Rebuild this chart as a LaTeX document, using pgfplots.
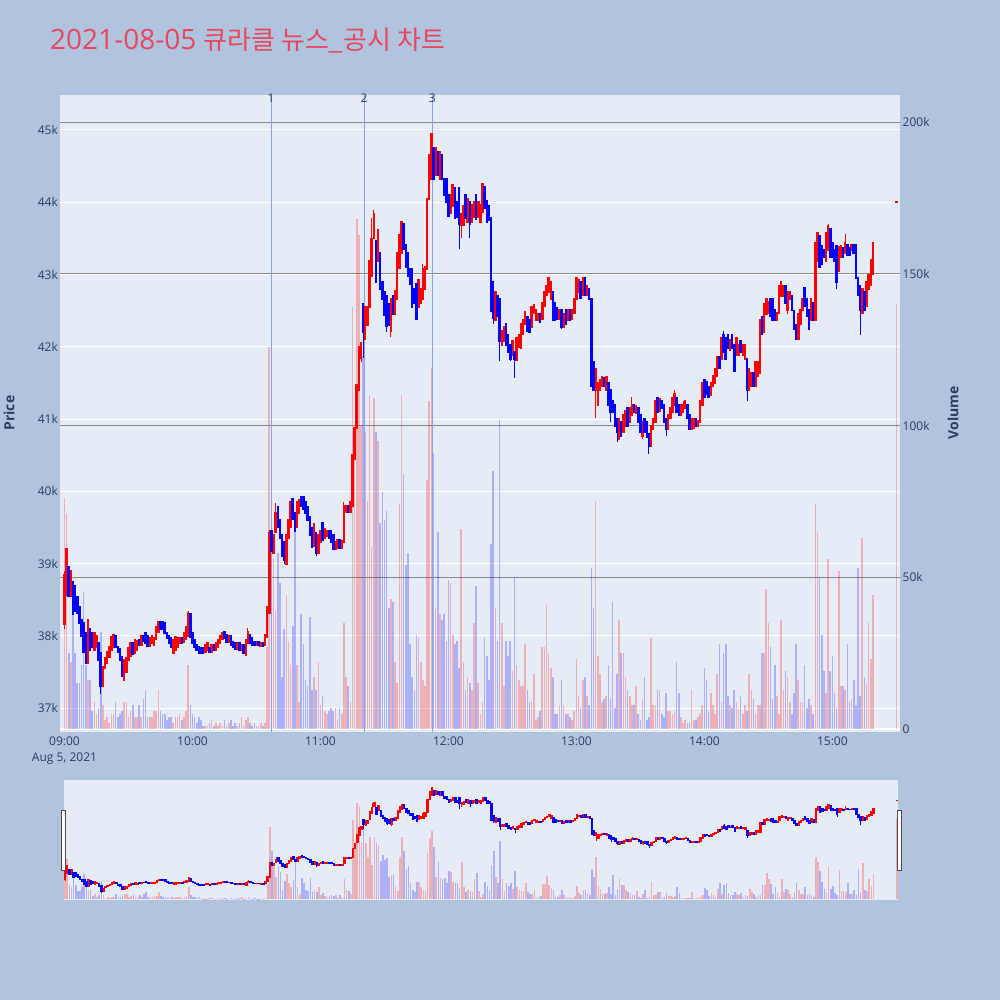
\documentclass[border=0pt]{standalone}
\usepackage{pgfplots}
\pgfplotsset{compat=1.18}
\usepackage{pgfplotstable}
\usepackage{fontspec}
\setmainfont{Open Sans}
\newfontfamily\krfont{Noto Sans CJK KR}
\definecolor{pagebg}{HTML}{B0C4DE}
\definecolor{plotbg}{HTML}{E5ECF6}
\definecolor{tickc}{HTML}{2A3F5F}
\definecolor{titlec}{HTML}{E8475F}
\definecolor{vgrid}{HTML}{8A8A8A}
\definecolor{evline}{HTML}{8AA2EE}
\definecolor{upc}{HTML}{FF0000}
\definecolor{dnc}{HTML}{0000FF}

\pgfplotstableread{
t o c v
0 38.16 38.85 76
1 38.57 39.20 71
2 38.96 38.55 25
3 38.55 38.90 22
4 38.75 38.30 38
5 38.70 38.35 25
6 38.54 38.32 15
7 38.40 38.18 15
8 38.22 38.00 21
9 38.18 37.77 45
10 38.04 37.63 21
11 37.63 38.22 16
12 38.10 37.80 16
13 38.05 37.85 6
14 37.80 38.04 9
15 37.85 38.00 5
16 37.90 37.67 7
17 37.77 37.30 32
18 37.30 37.57 8
19 37.56 37.70 3
20 37.62 37.78 4
21 37.71 37.85 2
22 37.81 37.99 5
23 37.85 38.02 5
24 38.00 37.85 9
25 37.85 37.77 4
26 37.82 37.66 5
27 37.71 37.44 6
28 37.39 37.67 9
29 37.50 37.70 9
30 37.66 37.83 4
31 37.72 37.90 6
32 37.90 37.75 8
33 37.76 37.95 4
34 37.80 37.93 4
35 37.95 37.88 8
36 37.88 38.00 4
37 38.00 37.93 10
38 38.04 37.90 13
39 38.00 37.86 4
40 37.86 37.97 4
41 37.90 38.00 4
42 37.88 37.97 6
43 37.95 38.13 6
44 38.05 38.20 13
45 38.20 38.09 6
46 38.20 38.09 5
47 38.18 38.04 5
48 38.04 37.97 3
49 38.00 37.90 4
50 37.97 37.85 4
51 37.76 37.95 2
52 37.80 37.99 4
53 37.85 37.97 4
54 37.90 37.97 5
55 37.97 37.90 3
56 37.92 38.04 4
57 37.95 38.13 6
58 38.00 38.32 21
59 38.30 37.99 8
60 38.04 37.90 5
61 37.95 37.85 4
62 37.88 37.80 2
63 37.85 37.76 4
64 37.84 37.76 3
65 37.84 37.76 1
66 37.78 37.88 1
67 37.80 37.90 1
68 37.84 37.78 2
69 37.78 37.88 3
70 37.88 37.80 1
71 37.80 37.90 2
72 37.85 37.95 1
73 37.90 38.00 2
74 37.95 38.04 1
75 38.06 37.97 3
76 38.02 37.92 1
77 37.92 38.00 2
78 38.00 37.88 3
79 37.92 37.85 1
80 37.90 37.82 2
81 37.82 37.90 1
82 37.90 37.81 2
83 37.81 37.88 4
84 37.88 37.76 1
85 37.74 37.95 3
86 37.90 38.06 4
87 38.02 37.90 2
88 37.98 37.88 1
89 37.92 37.87 2
90 37.87 37.92 1
91 37.92 37.87 1
92 37.86 37.90 2
93 37.90 37.86 1
94 37.88 38.02 2
95 37.99 38.40 27
96 38.32 39.43 126
97 39.45 39.18 85
98 39.15 39.40 56
99 39.43 39.70 39
100 39.79 39.51 58
101 39.60 39.35 48
102 39.40 39.10 17
103 39.30 39.05 33
104 39.00 39.40 44
105 39.35 39.60 29
106 39.50 39.85 21
107 39.90 39.62 34
108 39.70 39.45 71
109 39.50 39.85 21
110 39.70 39.88 9
111 39.93 39.80 38
112 39.92 39.76 28
113 39.85 39.70 16
114 39.78 39.60 14
115 39.65 39.40 37
116 39.50 39.23 13
117 39.25 39.55 17
118 39.43 39.15 13
119 39.15 39.40 22
120 39.30 39.45 8
121 39.56 39.33 11
122 39.35 39.48 6
123 39.38 39.45 5
124 39.46 39.36 6
125 39.45 39.30 7
126 39.40 39.20 6
127 39.20 39.30 7
128 39.22 39.33 3
129 39.33 39.22 7
130 39.22 39.32 5
131 39.30 39.80 35
132 39.72 39.80 17
133 39.80 39.72 14
134 39.72 39.85 9
135 39.80 40.50 139
136 40.45 40.88 95
137 40.88 41.47 168
138 41.40 42.00 163
139 41.85 42.06 100
140 42.60 42.20 123
141 42.10 42.55 98
142 42.30 42.55 75
143 42.55 43.19 110
144 42.98 43.50 60
145 43.50 43.84 109
146 43.46 42.90 98
147 43.19 43.62 95
148 43.30 42.80 68
149 42.90 42.66 78
150 42.76 42.44 69
151 42.70 42.28 72
152 42.60 42.30 40
153 42.22 42.66 43
154 42.70 42.45 42
155 42.45 42.78 22
156 42.66 43.30 15
157 43.09 43.55 74
158 43.30 43.73 110
159 43.70 43.35 84
160 43.41 43.10 54
161 43.30 42.98 58
162 43.08 42.87 28
163 43.08 42.55 17
164 42.80 42.60 13
165 42.87 42.38 31
166 42.55 42.92 30
167 42.60 42.80 22
168 42.66 43.08 16
169 42.80 43.10 14
170 43.08 44.05 82
171 44.05 44.65 108
172 44.32 44.94 119
173 44.75 44.32 91
174 44.38 44.75 40
175 44.70 44.38 65
176 44.32 44.70 38
177 44.65 44.32 36
178 44.32 44.10 38
179 44.32 44.00 29
180 44.10 43.81 49
181 43.85 44.10 48
182 43.95 44.24 31
183 44.20 43.78 28
184 44.00 43.80 29
185 44.20 43.70 20
186 43.68 43.84 66
187 43.68 43.95 22
188 44.10 43.78 13
189 43.73 44.05 17
190 44.00 43.70 15
191 43.73 43.97 13
192 43.80 44.00 35
193 44.10 43.76 47
194 43.80 44.00 15
195 43.73 43.97 5
196 43.87 44.26 9
197 44.21 43.92 30
198 44.02 43.73 24
199 43.95 43.75 16
200 43.78 42.50 61
201 42.90 42.40 85
202 42.37 42.76 40
203 42.71 42.42 29
204 42.66 42.08 102
205 42.03 42.22 35
206 42.08 42.27 14
207 42.32 42.03 29
208 42.17 41.93 24
209 42.03 41.83 29
210 41.88 42.08 19
211 41.93 41.83 50
212 41.81 42.13 21
213 42.00 42.17 16
214 41.98 42.32 14
215 42.17 42.37 14
216 42.32 42.49 28
217 42.42 42.22 13
218 42.37 42.20 9
219 42.27 42.56 9
220 42.46 42.58 18
221 42.37 42.51 3
222 42.37 42.46 4
223 42.46 42.34 6
224 42.39 42.61 27
225 42.56 42.76 27
226 42.71 42.85 41
227 42.76 42.95 25
228 42.66 42.90 20
229 42.76 42.37 17
230 42.61 42.37 5
231 42.54 42.39 5
232 42.39 42.51 8
233 42.51 42.27 16
234 42.27 42.46 8
235 42.51 42.32 5
236 42.37 42.51 5
237 42.51 42.37 4
238 42.39 42.51 3
239 42.46 42.66 6
240 42.66 42.95 23
241 42.76 42.93 11
242 42.90 42.68 7
243 42.71 42.95 16
244 42.95 42.71 17
245 42.71 42.85 11
246 42.80 42.66 8
247 42.66 41.45 53
248 41.79 41.40 40
249 41.40 41.69 75
250 41.20 41.50 24
251 41.40 41.54 18
252 41.45 41.59 9
253 41.57 41.45 10
254 41.40 41.59 11
255 41.50 41.20 21
256 41.40 41.10 10
257 41.25 41.10 42
258 41.20 40.91 7
259 41.01 40.82 18
260 40.72 41.01 36
261 40.96 40.77 25
262 40.82 41.06 25
263 40.91 41.11 17
264 41.15 40.91 13
265 40.96 41.15 11
266 41.06 41.20 8
267 41.20 41.10 8
268 41.08 41.18 14
269 41.15 40.96 5
270 41.06 40.82 3
271 40.77 40.96 10
272 41.01 40.82 17
273 40.96 40.75 3
274 40.80 40.62 4
275 40.62 40.91 30
276 40.86 41.00 8
277 40.96 41.25 8
278 41.30 41.10 13
279 41.11 41.28 13
280 41.25 41.15 5
281 41.20 40.96 4
282 41.01 40.86 12
283 40.86 41.06 6
284 41.01 41.15 6
285 41.10 41.30 5
286 41.20 41.35 6
287 41.30 41.10 22
288 41.20 41.06 12
289 41.06 41.20 4
290 41.10 41.20 2
291 41.15 41.25 3
292 41.20 41.01 2
293 41.06 40.86 2
294 40.86 41.01 13
295 40.88 41.00 3
296 41.00 40.91 3
297 40.91 40.98 4
298 40.96 41.25 5
299 41.20 41.50 8
300 41.54 41.30 20
301 41.52 41.35 16
302 41.45 41.30 6
303 41.33 41.50 12
304 41.45 41.60 8
305 41.50 41.69 5
306 41.60 41.86 18
307 41.86 41.70 28
308 41.83 42.13 9
309 42.17 41.93 25
310 42.13 41.83 28
311 42.17 41.98 11
312 41.95 42.10 8
313 42.17 41.98 7
314 42.03 41.66 13
315 41.88 42.13 9
316 41.88 42.03 7
317 42.08 41.93 11
318 41.88 42.03 5
319 41.83 42.03 8
320 41.83 41.40 6
321 41.40 41.69 18
322 41.45 41.64 13
323 41.64 41.45 10
324 41.45 41.79 5
325 41.60 41.79 8
326 41.64 42.37 8
327 42.42 42.17 25
328 42.20 42.60 25
329 42.45 42.66 46
330 42.47 42.62 35
331 42.66 42.42 27
332 42.66 42.37 10
333 42.51 42.37 21
334 42.37 42.47 11
335 42.47 42.85 5
336 42.70 42.90 36
337 42.70 42.85 13
338 42.85 42.61 19
339 42.51 42.76 17
340 42.66 42.76 9
341 42.71 42.51 5
342 42.50 42.25 12
343 42.30 42.10 28
344 42.10 42.46 16
345 42.32 42.51 9
346 42.51 42.66 9
347 42.81 42.56 21
348 42.66 42.42 7
349 42.51 42.25 10
350 42.37 42.66 8
351 42.61 42.37 5
352 42.37 43.44 74
353 43.19 43.58 65
354 43.53 43.10 50
355 43.39 43.15 31
356 43.34 43.24 19
357 43.19 43.58 12
358 43.34 43.68 56
359 43.63 43.24 19
360 43.44 43.24 24
361 43.34 43.19 12
362 43.39 42.90 7
363 43.05 43.39 52
364 43.24 43.39 14
365 43.37 43.24 14
366 43.29 43.44 13
367 43.41 43.27 28
368 43.37 43.27 9
369 43.34 43.41 10
370 43.41 43.30 16
371 43.41 42.95 8
372 42.95 42.71 53
373 42.85 42.51 11
374 42.47 42.80 63
375 42.76 42.51 17
376 42.56 42.90 15
377 42.80 43.00 35
378 42.85 43.20 23
379 43.00 43.44 44
390 44.00 44.00 140
}\ohlc

\pgfplotstableread{
t h l d
0 38.90 38.10 1
17 37.77 37.20 0
58 38.35 38.00 1
86 38.11 37.90 1
96 39.47 38.32 1
99 39.84 39.43 1
103 39.30 39.00 0
107 39.91 39.62 0
118 39.43 39.10 0
131 39.86 39.30 1
139 42.06 41.79 1
140 42.60 41.85 0
144 43.78 42.98 1
145 43.89 43.50 1
151 42.70 42.20 0
153 42.66 42.14 1
168 43.15 42.66 1
185 44.20 43.35 0
186 43.84 43.50 1
190 44.00 43.50 0
201 42.90 42.32 0
204 42.66 41.81 0
209 42.03 41.81 0
211 41.93 41.57 0
233 42.51 42.25 0
249 41.69 41.01 1
256 41.40 40.96 0
259 41.01 40.69 0
266 41.30 41.06 1
271 40.96 40.72 1
274 40.80 40.52 0
282 41.01 40.77 0
286 41.40 41.20 1
290 41.25 41.10 1
309 42.22 41.93 0
320 41.83 41.25 0
339 42.76 42.46 1
358 43.70 43.34 1
362 43.39 42.80 0
366 43.56 43.29 1
373 42.85 42.17 0
}\wicks

\newcommand{\volbars}{%
  \addplot[ycomb, mark=none, line width=1.6pt, draw=upc, opacity=0.25, forget plot,
    restrict expr to domain={\thisrow{c}-\thisrow{o}}{0:100}]
    table[x=t, y=v]{\ohlc};
  \addplot[ycomb, mark=none, line width=1.6pt, draw=dnc, opacity=0.25, forget plot,
    restrict expr to domain={\thisrow{c}-\thisrow{o}}{-100:-0.0001}]
    table[x=t, y=v]{\ohlc};
}
\newcommand{\candles}{%
  \addplot[draw=none, no markers, forget plot,
    restrict expr to domain={\thisrow{d}}{0.5:1.5},
    error bars/.cd, y dir=both, y explicit, error mark=none,
    error bar style={draw=upc, line width=0.9pt}]
    table[x=t, y expr={(\thisrow{h}+\thisrow{l})/2}, y error expr={(\thisrow{h}-\thisrow{l})/2}]{\wicks};
  \addplot[draw=none, no markers, forget plot,
    restrict expr to domain={\thisrow{d}}{-0.5:0.5},
    error bars/.cd, y dir=both, y explicit, error mark=none,
    error bar style={draw=dnc, line width=0.9pt}]
    table[x=t, y expr={(\thisrow{h}+\thisrow{l})/2}, y error expr={(\thisrow{h}-\thisrow{l})/2}]{\wicks};
  \addplot[draw=none, no markers, forget plot,
    restrict expr to domain={\thisrow{c}-\thisrow{o}}{0:100},
    error bars/.cd, y dir=both, y explicit, error mark=none,
    error bar style={draw=upc, line width=2.5pt}]
    table[x=t, y expr={(\thisrow{o}+\thisrow{c})/2}, y error expr={abs(\thisrow{c}-\thisrow{o})/2+0.012}]{\ohlc};
  \addplot[draw=none, no markers, forget plot,
    restrict expr to domain={\thisrow{c}-\thisrow{o}}{-100:-0.0001},
    error bars/.cd, y dir=both, y explicit, error mark=none,
    error bar style={draw=dnc, line width=2.5pt}]
    table[x=t, y expr={(\thisrow{o}+\thisrow{c})/2}, y error expr={abs(\thisrow{c}-\thisrow{o})/2+0.012}]{\ohlc};
}

\pgfplotsset{
  mainbox/.style={at={(60pt,268pt)}, anchor=south west, scale only axis,
    width=840pt, height=637pt, xmin=-2.1, xmax=391.7},
  slidebox/.style={at={(64pt,100pt)}, anchor=south west, scale only axis,
    width=834pt, height=120pt, xmin=-0.5, xmax=390.5},
  tlab/.style={tick label style={font=\fontsize{12}{15.3}\selectfont, text=tickc}},
}

\begin{document}
\begin{tikzpicture}
\useasboundingbox (0,0) rectangle (1000pt,1000pt);
\fill[pagebg] (0,0) rectangle (1000pt,1000pt);

% main price axis: background, white grid, labels
\begin{axis}[mainbox, tlab,
  ymin=36.672, ymax=45.484,
  axis background/.style={fill=plotbg},
  axis line style={draw=none}, major tick length=0pt,
  ytick={37,38,39,40,41,42,43,44,45},
  yticklabels={37k,38k,39k,40k,41k,42k,43k,44k,45k},
  ymajorgrids, grid style={white, line width=1pt},
  xtick={0,60,120,180,240,300,360},
  xticklabels={{09:00\\Aug 5, 2021},10:00,11:00,12:00,13:00,14:00,15:00},
  xticklabel style={align=center, inner sep=0pt, yshift=-5pt},
  yticklabel style={inner sep=0pt, xshift=-2pt},
]
\end{axis}

% volume axis
\begin{axis}[mainbox, tlab,
  ymin=-1, ymax=209,
  axis line style={draw=none}, major tick length=0pt,
  xtick=\empty,
  ytick={50,100,150,200}, yticklabels={50k,100k,150k,200k},
  extra y ticks={0}, extra y tick labels={0}, extra y tick style={grid=none},
  yticklabel pos=right,
  ymajorgrids, grid style={vgrid, line width=1pt},
  yticklabel style={inner sep=0pt, xshift=2.5pt},
]
\draw[white, line width=2pt] (axis cs:-2.1,0) -- (axis cs:391.7,0);
\volbars
\end{axis}

% candles
\begin{axis}[mainbox, ymin=36.672, ymax=45.484, hide axis, clip=false]
\draw[evline, line width=1pt] (axis cs:96.9,36.672) -- (axis cs:96.9,45.484);
\draw[evline, line width=1pt] (axis cs:140.5,36.672) -- (axis cs:140.5,45.484);
\draw[evline, line width=1pt] (axis cs:172.4,36.672) -- (axis cs:172.4,45.484);
\candles
\node[font=\fontsize{12}{14}\selectfont, text=tickc, yshift=-3pt] at (axis cs:96.9,45.484) {1};
\node[font=\fontsize{12}{14}\selectfont, text=tickc, yshift=-3pt] at (axis cs:140.5,45.484) {2};
\node[font=\fontsize{12}{14}\selectfont, text=tickc, yshift=-3pt] at (axis cs:172.4,45.484) {3};
\end{axis}

% range slider
\begin{axis}[slidebox, ymin=-1, ymax=209,
  axis background/.style={fill=plotbg},
  axis line style={draw=none}, xtick=\empty, ytick=\empty]
\volbars
\end{axis}
\begin{axis}[slidebox, ymin=36.672, ymax=45.484, hide axis]
\candles
\end{axis}
\filldraw[fill=white, draw=black!70, line width=0.8pt] (61pt,130pt) rectangle (65pt,190pt);
\filldraw[fill=white, draw=black!70, line width=0.8pt] (897pt,130pt) rectangle (901pt,190pt);

% titles
\node[anchor=base west, text=titlec, inner sep=0pt] at (50pt,950pt)
  {\fontsize{28}{32}\selectfont 2021-08-05 {\krfont\fontsize{26}{30}\selectfont 큐라클 뉴스\_공시 차트}};
\node[rotate=90, text=tickc, font=\bfseries\fontsize{14}{16}\selectfont] at (9pt,587pt) {Price};
\node[rotate=90, text=tickc, font=\bfseries\fontsize{14}{16}\selectfont] at (953pt,587pt) {Volume};
\end{tikzpicture}
\end{document}
